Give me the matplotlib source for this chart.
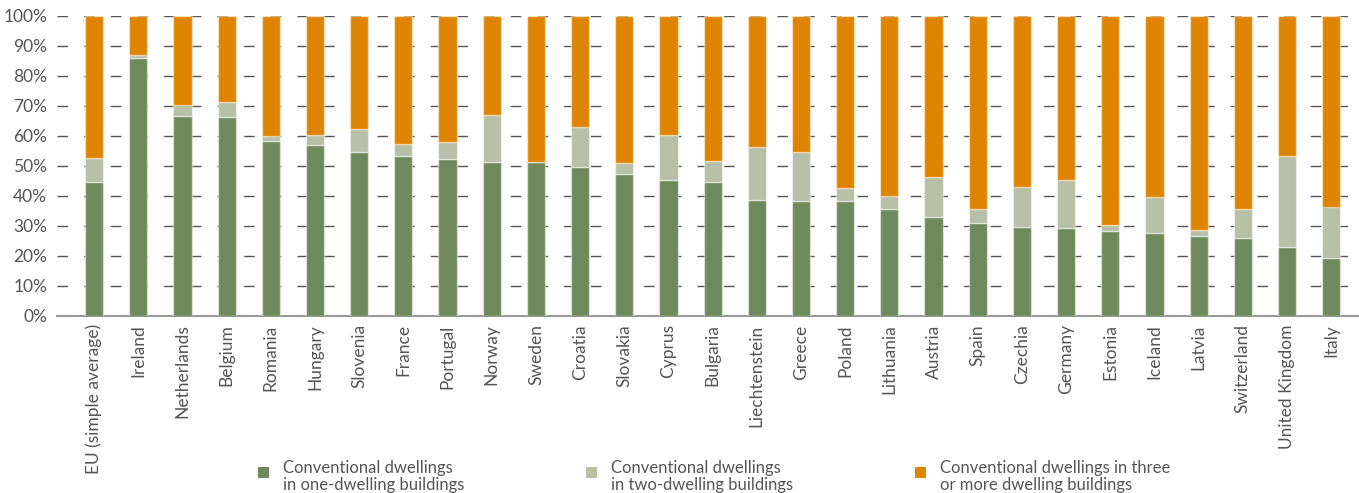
import matplotlib
matplotlib.use("Agg")
import matplotlib.pyplot as plt
from matplotlib.patches import Rectangle
from matplotlib.legend_handler import HandlerPatch
import numpy as np

countries = ["EU (simple average)", "Ireland", "Netherlands", "Belgium", "Romania",
             "Hungary", "Slovenia", "France", "Portugal", "Norway", "Sweden",
             "Croatia", "Slovakia", "Cyprus", "Bulgaria", "Liechtenstein", "Greece",
             "Poland", "Lithuania", "Austria", "Spain", "Czechia", "Germany",
             "Estonia", "Iceland", "Latvia", "Switzerland", "United Kingdom", "Italy"]

one_dwelling = [44.6, 86.1, 66.7, 66.2, 58.2, 57.0, 54.8, 53.4, 52.2, 51.5, 51.3,
                49.6, 47.3, 45.4, 44.6, 38.8, 38.4, 38.4, 35.8, 33.1, 31.1, 29.8,
                29.4, 28.2, 27.8, 26.8, 25.9, 22.9, 19.2]
two_dwelling_top = [52.8, 87.0, 70.5, 71.2, 60.1, 60.2, 62.2, 57.2, 57.9, 67.1, 51.5,
                    63.0, 51.1, 60.3, 51.8, 56.5, 54.8, 42.6, 39.9, 46.5, 35.8, 43.1,
                    45.5, 30.2, 39.6, 28.8, 35.6, 53.5, 36.5]
two_dwelling = [t - o for t, o in zip(two_dwelling_top, one_dwelling)]
three_plus = [100 - t for t in two_dwelling_top]

labels = ["Conventional dwellings\nin one-dwelling buildings",
          "Conventional dwellings\nin two-dwelling buildings",
          "Conventional dwellings in three\nor more dwelling buildings"]
colors = ["#6E8A5C", "#B7BFA7", "#DF8400"]

plt.rcParams['font.family'] = ['Lato', 'DejaVu Sans']

fig = plt.figure(figsize=(13.59, 4.93), dpi=100)
ax = fig.add_axes([57/1359, 177/493, 1 - 57/1359, 300/493])

x = np.arange(len(countries))
w = 0.41
edge = (1, 1, 1, 0.45)
b1 = ax.bar(x, one_dwelling, w, color=colors[0], edgecolor=edge, linewidth=1, zorder=3)
b2 = ax.bar(x, two_dwelling, w, bottom=one_dwelling, color=colors[1], edgecolor=edge, linewidth=1, zorder=3)
b3 = ax.bar(x, three_plus, w, bottom=two_dwelling_top, color=colors[2], edgecolor=edge, linewidth=1, zorder=3)

ax.set_xlim(-0.84, len(countries) - 1 + 0.63)
ax.set_ylim(0, 100)
ax.set_yticks(np.arange(0, 101, 10))
ax.set_yticklabels([f"{v}%" for v in range(0, 101, 10)])
ax.yaxis.grid(True, color="#555555", linewidth=1, linestyle=(0, (7.6, 11.6)), zorder=0)
ax.set_axisbelow(True)
ax.set_xticks(x)
ax.set_xticklabels(countries, rotation=90)

for s in ["top", "right", "left"]:
    ax.spines[s].set_visible(False)
ax.spines["bottom"].set_color("#999999")
ax.spines["bottom"].set_linewidth(1.5)
ax.tick_params(axis="both", length=0, colors="#555555", labelsize=12.5)
ax.tick_params(axis="y", pad=7)
ax.tick_params(axis="x", pad=6)


def square(legend, orig_handle, xdescent, ydescent, width, height, fontsize):
    s = 0.66 * fontsize
    return Rectangle((-xdescent, -ydescent + 0.3 * fontsize), s, s)


handles = [b1.patches[0], b2.patches[0], b3.patches[0]]
leg = fig.legend(handles, labels, ncol=3, loc="upper left",
                 bbox_to_anchor=(258/1359, 1 - 460/493), frameon=False,
                 fontsize=12, handlelength=0.66, handleheight=0.66,
                 handletextpad=0.85, columnspacing=7.3, borderpad=0, borderaxespad=0,
                 labelspacing=0,
                 handler_map={Rectangle: HandlerPatch(patch_func=square)})
for t in leg.get_texts():
    t.set_color("#555555")
    t.set_linespacing(1.05)
for h, c in zip(leg.legend_handles, colors):
    h.set_edgecolor("none")
    h.set_facecolor(c)

fig.savefig("out.png", dpi=100)
